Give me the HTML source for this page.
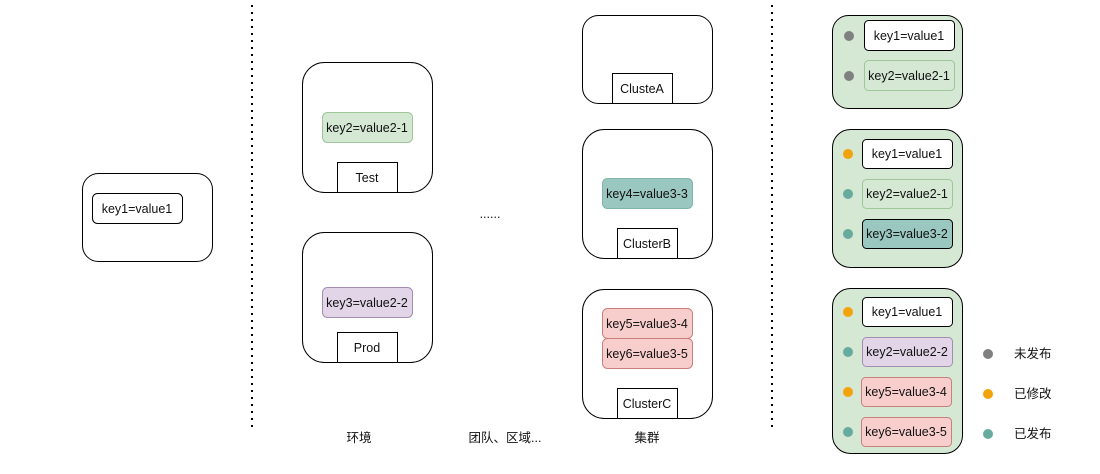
<!DOCTYPE html>
<html><head><meta charset="utf-8"><style>
html,body{margin:0;padding:0;background:#fff;}
svg text{font-family:"Liberation Sans","Noto Sans CJK SC",sans-serif;font-size:12.5px;fill:#111;}
</style></head><body>
<svg width="1100" height="469" viewBox="0 0 1100 469" xmlns="http://www.w3.org/2000/svg">
<g stroke="#000" stroke-width="2" stroke-dasharray="2 5" fill="none">
<line x1="252" y1="5" x2="252" y2="432"/>
<line x1="772" y1="5" x2="772" y2="432"/>
</g>
<g stroke="#000" stroke-width="1" fill="#fff">
<rect x="82.5" y="173.5" width="130" height="88" rx="16"/>
<rect x="92.5" y="193.5" width="90" height="30" rx="5"/>
<rect x="302.5" y="62.5" width="130" height="130" rx="22"/>
<rect x="302.5" y="232.5" width="130" height="130" rx="22"/>
<rect x="582.5" y="15.5" width="130" height="88" rx="16"/>
<rect x="582.5" y="129.5" width="130" height="129" rx="22"/>
<rect x="582.5" y="289.5" width="130" height="129" rx="22"/>
<rect x="337.5" y="162.5" width="60" height="30" rx="0"/>
<rect x="337.5" y="332.5" width="60" height="30" rx="0"/>
<rect x="612.5" y="73.5" width="60" height="30" rx="0"/>
<rect x="617.5" y="228.5" width="60" height="30" rx="0"/>
<rect x="617.5" y="388.5" width="60" height="30" rx="0"/>
</g>
<rect x="322.5" y="112.5" width="90" height="30" rx="5" fill="#d5e8d4" stroke="#9fc59a"/>
<rect x="322.5" y="287.5" width="90" height="30" rx="5" fill="#e1d5e7" stroke="#a58cb3"/>
<rect x="602.5" y="178.5" width="90" height="30" rx="5" fill="#9ac7bf" stroke="#7fb5ab"/>
<rect x="602.5" y="308.5" width="90" height="30" rx="5" fill="#f8cecc" stroke="#c9807c"/>
<rect x="602.5" y="338.5" width="90" height="30" rx="5" fill="#f8cecc" stroke="#c9807c"/>
<g text-anchor="middle">
<text x="137" y="213">key1=value1</text>
<text x="367" y="132">key2=value2-1</text>
<text x="367" y="182">Test</text>
<text x="367" y="307">key3=value2-2</text>
<text x="367" y="352">Prod</text>
<text x="642" y="93">ClusteA</text>
<text x="647" y="198">key4=value3-3</text>
<text x="647" y="248">ClusterB</text>
<text x="647" y="328">key5=value3-4</text>
<text x="647" y="358">key6=value3-5</text>
<text x="647" y="408">ClusterC</text>
<text x="490" y="218">......</text>
<text x="359" y="442">环境</text>
<text x="505" y="442">团队、区域...</text>
<text x="647" y="442">集群</text>
</g>
<g stroke="#000" stroke-width="1" fill="#d5e8d4">
<rect x="832.5" y="15.5" width="130" height="93" rx="16"/>
<rect x="832.5" y="129.5" width="130" height="138" rx="18"/>
<rect x="832.5" y="288.5" width="130" height="165" rx="18"/>
</g>
<rect x="864.5" y="20.5" width="90" height="30" rx="4" fill="#fff" stroke="#000"/>
<rect x="864.5" y="60.5" width="90" height="30" rx="4" fill="#d5e8d4" stroke="#9fc59a"/>
<rect x="862.5" y="139.5" width="90" height="29" rx="4" fill="#fff" stroke="#000"/>
<rect x="862.5" y="179.5" width="90" height="29" rx="4" fill="#d5e8d4" stroke="#9fc59a"/>
<rect x="862.5" y="219.5" width="90" height="29" rx="4" fill="#9ac7bf" stroke="#000"/>
<rect x="862.5" y="297.5" width="90" height="29" rx="4" fill="#fff" stroke="#000"/>
<rect x="862.5" y="337.5" width="90" height="29" rx="4" fill="#e1d5e7" stroke="#a58cb3"/>
<rect x="861.5" y="377.5" width="90" height="29" rx="4" fill="#f8cecc" stroke="#c9807c"/>
<rect x="861.5" y="417.5" width="90" height="29" rx="4" fill="#f8cecc" stroke="#c9807c"/>
<g text-anchor="middle">
<text x="909" y="40">key1=value1</text>
<text x="909" y="80">key2=value2-1</text>
<text x="907" y="158">key1=value1</text>
<text x="907" y="198">key2=value2-1</text>
<text x="907" y="238">key3=value3-2</text>
<text x="907" y="316">key1=value1</text>
<text x="907" y="356">key2=value2-2</text>
<text x="906" y="396">key5=value3-4</text>
<text x="906" y="436">key6=value3-5</text>
</g>
<g>
<circle cx="849" cy="36" r="5" fill="#808080"/>
<circle cx="849" cy="76" r="5" fill="#808080"/>
<circle cx="848" cy="154" r="5" fill="#f0a30a"/>
<circle cx="848" cy="194" r="5" fill="#67ab9f"/>
<circle cx="848" cy="234" r="5" fill="#67ab9f"/>
<circle cx="848" cy="312" r="5" fill="#f0a30a"/>
<circle cx="848" cy="352" r="5" fill="#67ab9f"/>
<circle cx="848" cy="392" r="5" fill="#f0a30a"/>
<circle cx="848" cy="432" r="5" fill="#67ab9f"/>
<circle cx="988" cy="354" r="5" fill="#808080"/>
<circle cx="988" cy="394" r="5" fill="#f0a30a"/>
<circle cx="988" cy="434" r="5" fill="#67ab9f"/>
</g>
<text x="1014" y="358">未发布</text>
<text x="1014" y="398">已修改</text>
<text x="1014" y="438">已发布</text>
</svg>
</body></html>
